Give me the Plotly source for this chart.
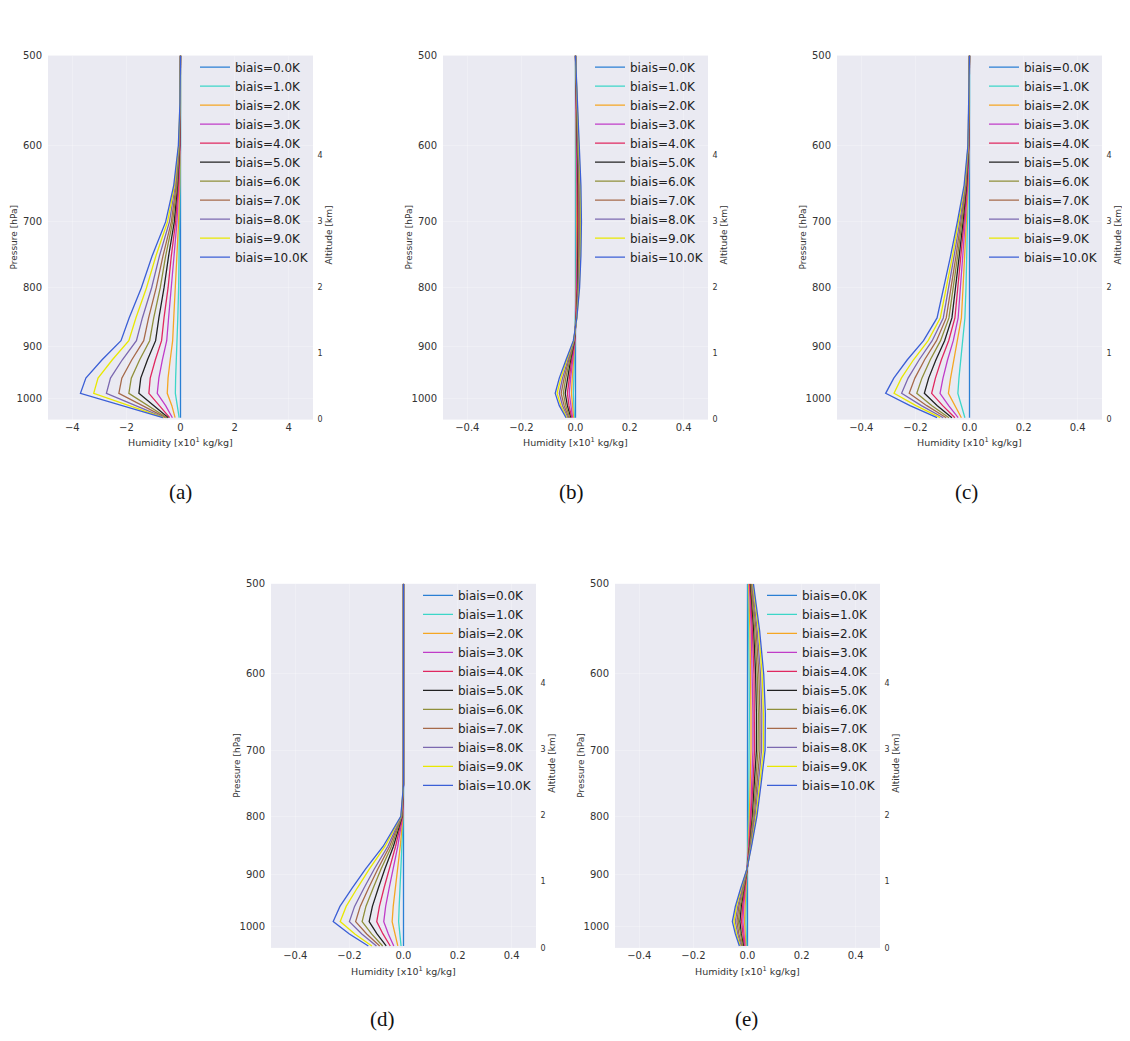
import math
import plotly.graph_objects as go

# ---------------- data ----------------
pressure_levels = [1040, 1015, 990, 960, 925, 890, 850, 800, 750, 700, 650, 600, 550, 500]
bias_values = [0.0, 1.0, 2.0, 3.0, 4.0, 5.0, 6.0, 7.0, 8.0, 9.0, 10.0]
line_colors = ["#2a7fd4", "#3cd6c8", "#f5a623", "#c03cc8", "#e02860", "#222222",
               "#8f8f3a", "#a66a4a", "#7b68b0", "#e8e800", "#3b5fd6"]

hum_a = [
    [0, 0, 0, 0, 0, 0, 0, 0, 0, 0, 0, 0, 0, 0],
    [-0.05, -0.12, -0.19, -0.18, -0.15, -0.11, -0.10, -0.07, -0.05, -0.03, -0.01, 0, 0, 0],
    [-0.20, -0.32, -0.49, -0.46, -0.38, -0.29, -0.25, -0.19, -0.14, -0.07, -0.03, -0.01, 0, 0],
    [-0.30, -0.55, -0.86, -0.80, -0.67, -0.51, -0.44, -0.33, -0.24, -0.13, -0.06, -0.02, 0, 0],
    [-0.40, -0.78, -1.17, -1.12, -0.93, -0.70, -0.61, -0.46, -0.34, -0.18, -0.08, -0.03, -0.01, 0],
    [-0.45, -1.00, -1.54, -1.47, -1.22, -0.92, -0.80, -0.61, -0.44, -0.23, -0.11, -0.03, -0.01, 0],
    [-0.50, -1.20, -1.91, -1.82, -1.51, -1.14, -0.99, -0.75, -0.55, -0.29, -0.13, -0.04, -0.01, 0],
    [-0.55, -1.42, -2.28, -2.17, -1.80, -1.36, -1.18, -0.90, -0.65, -0.34, -0.16, -0.05, -0.01, 0],
    [-0.60, -1.67, -2.74, -2.59, -2.15, -1.63, -1.41, -1.07, -0.78, -0.41, -0.19, -0.06, -0.01, 0],
    [-0.62, -1.92, -3.21, -3.05, -2.52, -1.91, -1.65, -1.26, -0.91, -0.48, -0.22, -0.07, -0.02, 0],
    [-0.65, -2.20, -3.70, -3.50, -2.90, -2.20, -1.90, -1.45, -1.05, -0.55, -0.25, -0.08, -0.02, 0],
]

hum_b = [
    [0, 0, 0, 0, 0, 0, 0, 0, 0, 0, 0, 0, 0, 0],
    [-0.004, -0.006, -0.008, -0.006, -0.004, -0.001, 0.001, 0.002, 0.002, 0.002, 0.002, 0.001, 0.001, 0],
    [-0.007, -0.012, -0.015, -0.012, -0.007, -0.002, 0.001, 0.003, 0.004, 0.004, 0.004, 0.003, 0.001, 0],
    [-0.011, -0.018, -0.023, -0.018, -0.011, -0.002, 0.002, 0.005, 0.006, 0.007, 0.006, 0.004, 0.002, 0],
    [-0.014, -0.024, -0.030, -0.024, -0.014, -0.003, 0.002, 0.006, 0.008, 0.009, 0.008, 0.006, 0.003, 0],
    [-0.018, -0.030, -0.038, -0.030, -0.018, -0.004, 0.003, 0.008, 0.010, 0.011, 0.010, 0.007, 0.004, 0],
    [-0.021, -0.036, -0.045, -0.036, -0.021, -0.005, 0.003, 0.009, 0.012, 0.013, 0.012, 0.008, 0.004, 0],
    [-0.025, -0.042, -0.053, -0.042, -0.025, -0.006, 0.004, 0.011, 0.014, 0.015, 0.014, 0.010, 0.005, 0],
    [-0.028, -0.048, -0.060, -0.048, -0.028, -0.006, 0.004, 0.012, 0.016, 0.018, 0.016, 0.011, 0.006, 0],
    [-0.032, -0.054, -0.068, -0.054, -0.032, -0.007, 0.005, 0.014, 0.018, 0.020, 0.018, 0.013, 0.006, 0],
    [-0.035, -0.060, -0.075, -0.060, -0.035, -0.008, 0.005, 0.015, 0.020, 0.022, 0.020, 0.014, 0.007, 0],
]

hum_c = [
    [0, 0, 0, 0, 0, 0, 0, 0, 0, 0, 0, 0, 0, 0],
    [-0.017, -0.031, -0.043, -0.039, -0.032, -0.024, -0.017, -0.013, -0.010, -0.006, -0.003, -0.001, 0, 0],
    [-0.030, -0.055, -0.078, -0.070, -0.058, -0.043, -0.030, -0.024, -0.018, -0.011, -0.005, -0.002, 0, 0],
    [-0.042, -0.077, -0.109, -0.098, -0.081, -0.060, -0.042, -0.033, -0.025, -0.016, -0.007, -0.002, -0.001, 0],
    [-0.054, -0.099, -0.140, -0.126, -0.104, -0.077, -0.054, -0.043, -0.032, -0.020, -0.009, -0.003, -0.001, 0],
    [-0.065, -0.119, -0.167, -0.151, -0.124, -0.092, -0.065, -0.051, -0.038, -0.024, -0.011, -0.003, -0.001, 0],
    [-0.076, -0.139, -0.195, -0.176, -0.145, -0.107, -0.076, -0.060, -0.044, -0.028, -0.013, -0.004, -0.001, 0],
    [-0.086, -0.158, -0.223, -0.202, -0.166, -0.122, -0.086, -0.068, -0.050, -0.032, -0.014, -0.004, -0.001, 0],
    [-0.097, -0.178, -0.251, -0.227, -0.186, -0.138, -0.097, -0.077, -0.057, -0.036, -0.016, -0.005, -0.002, 0],
    [-0.108, -0.198, -0.279, -0.252, -0.207, -0.153, -0.108, -0.086, -0.063, -0.041, -0.018, -0.005, -0.002, 0],
    [-0.120, -0.220, -0.310, -0.280, -0.230, -0.170, -0.120, -0.095, -0.070, -0.045, -0.020, -0.006, -0.002, 0],
]

hum_d = [
    [0, 0, 0, 0, 0, 0, 0, 0, 0, 0, 0, 0, 0, 0],
    [-0.009, -0.014, -0.018, -0.016, -0.013, -0.010, -0.005, -0.001, 0, 0, 0, 0, 0, 0],
    [-0.021, -0.032, -0.042, -0.038, -0.030, -0.022, -0.012, -0.002, 0, 0, 0, 0, 0, 0],
    [-0.036, -0.056, -0.073, -0.066, -0.053, -0.039, -0.021, -0.003, 0, 0, 0, 0, 0, 0],
    [-0.049, -0.076, -0.099, -0.089, -0.072, -0.053, -0.029, -0.004, 0, 0, 0, 0, 0, 0],
    [-0.064, -0.098, -0.127, -0.115, -0.093, -0.069, -0.037, -0.005, 0, 0, 0, 0, 0, 0],
    [-0.077, -0.118, -0.153, -0.139, -0.112, -0.083, -0.044, -0.006, 0, 0, 0, 0, 0, 0],
    [-0.088, -0.136, -0.177, -0.160, -0.129, -0.095, -0.051, -0.007, 0, 0, 0, 0, 0, 0],
    [-0.100, -0.154, -0.200, -0.181, -0.146, -0.108, -0.058, -0.008, 0, 0, 0, 0, 0, 0],
    [-0.117, -0.180, -0.234, -0.212, -0.171, -0.126, -0.068, -0.009, 0, 0, 0, 0, 0, 0],
    [-0.130, -0.200, -0.260, -0.235, -0.190, -0.140, -0.075, -0.010, 0, 0, 0, 0, 0, 0],
]

hum_e = [
    [0, 0, 0, 0, 0, 0, 0, 0, 0, 0, 0, 0, 0, 0],
    [-0.003, -0.005, -0.006, -0.005, -0.003, 0, 0.002, 0.004, 0.005, 0.007, 0.007, 0.006, 0.005, 0.002],
    [-0.006, -0.009, -0.011, -0.009, -0.005, 0, 0.003, 0.007, 0.010, 0.013, 0.013, 0.012, 0.009, 0.004],
    [-0.009, -0.014, -0.017, -0.014, -0.008, -0.001, 0.005, 0.011, 0.015, 0.020, 0.020, 0.018, 0.014, 0.007],
    [-0.012, -0.018, -0.022, -0.018, -0.010, -0.001, 0.006, 0.014, 0.020, 0.026, 0.026, 0.024, 0.018, 0.009],
    [-0.015, -0.023, -0.028, -0.023, -0.013, -0.001, 0.008, 0.018, 0.025, 0.033, 0.033, 0.030, 0.023, 0.011],
    [-0.018, -0.027, -0.034, -0.027, -0.015, -0.001, 0.009, 0.021, 0.030, 0.039, 0.040, 0.036, 0.027, 0.013],
    [-0.021, -0.032, -0.039, -0.032, -0.018, -0.001, 0.011, 0.025, 0.035, 0.046, 0.046, 0.042, 0.032, 0.015],
    [-0.024, -0.036, -0.045, -0.036, -0.020, -0.002, 0.012, 0.028, 0.040, 0.052, 0.053, 0.048, 0.036, 0.018],
    [-0.027, -0.041, -0.050, -0.041, -0.023, -0.002, 0.014, 0.032, 0.045, 0.059, 0.059, 0.054, 0.041, 0.020],
    [-0.030, -0.045, -0.056, -0.045, -0.025, -0.002, 0.015, 0.035, 0.050, 0.065, 0.066, 0.060, 0.045, 0.022],
]

pressure_ticks = [500, 600, 700, 800, 900, 1000]
altitude_ticks = [0, 1, 2, 3, 4]
altitude_ticktext = ["0", "1", "2", "3", "4"]
x_ticks_a = [-4, -2, 0, 2, 4]
x_ticktext_a = ["\u22124", "\u22122", "0", "2", "4"]
x_ticks_small = [-0.4, -0.2, 0.0, 0.2, 0.4]
x_ticktext_small = ["\u22120.4", "\u22120.2", "0.0", "0.2", "0.4"]
panel_captions = ["(a)", "(b)", "(c)", "(d)", "(e)"]

# ---------------- layout geometry (page pixels) ----------------
OFF = 8                      # default body margin of the html page
W, H = 1130 - 2 * OFF, 1041 - 2 * OFF
panels = [
    dict(data=hum_a, left=48, top=50, xr=[-4.9, 4.9], tv=x_ticks_a, tt=x_ticktext_a),
    dict(data=hum_b, left=443, top=50, xr=[-0.49, 0.49], tv=x_ticks_small, tt=x_ticktext_small),
    dict(data=hum_c, left=837, top=50, xr=[-0.49, 0.49], tv=x_ticks_small, tt=x_ticktext_small),
    dict(data=hum_d, left=271, top=584, xr=[-0.49, 0.49], tv=x_ticks_small, tt=x_ticktext_small),
    dict(data=hum_e, left=615, top=584, xr=[-0.49, 0.49], tv=x_ticks_small, tt=x_ticktext_small),
]
PW, PH = 265, 368
caption_pos = [(180, 491), (572, 491), (966, 491), (382, 1024), (746, 1024)]


def px(x):
    return (x - OFF) / W


def py(y):
    return 1 - (y - OFF) / H


fig = go.Figure()
layout = dict(width=W, height=H, margin=dict(l=0, r=0, t=0, b=0),
              paper_bgcolor="white", plot_bgcolor="#eaeaf2",
              font=dict(family="DejaVu Sans", color="#333333"), showlegend=True)
annotations = []
tick_font = dict(family="DejaVu Sans", size=10, color="#333333")
grid_col = "rgba(255,255,255,0.25)"


def note(text, x, y, size, angle=0, family="DejaVu Sans", color="#333333"):
    return dict(text=text, x=px(x), y=py(y), xref="paper", yref="paper",
                xanchor="center", yanchor="middle", textangle=angle, showarrow=False,
                font=dict(family=family, size=size, color=color))


for i, pnl in enumerate(panels):
    n = i + 1
    xa = "x" if n == 1 else f"x{n}"
    ya = "y" if n == 1 else f"y{n}"
    yr = f"y{n + 5}"
    leg = "legend" if n == 1 else f"legend{n}"
    L, T = pnl["left"], pnl["top"]

    for k, row in enumerate(pnl["data"]):
        fig.add_trace(go.Scatter(x=row, y=pressure_levels, mode="lines",
                                 line=dict(color=line_colors[k], width=1.3),
                                 name=f"biais={bias_values[k]:.1f}K",
                                 xaxis=xa, yaxis=ya, legend=leg, hoverinfo="skip"))
    fig.add_trace(go.Scatter(x=[None], y=[None], xaxis=xa, yaxis=yr,
                             showlegend=False, hoverinfo="skip"))

    layout[f"xaxis{'' if n == 1 else n}"] = dict(
        domain=[px(L), px(L + PW)], anchor=ya, range=pnl["xr"],
        tickvals=pnl["tv"], ticktext=pnl["tt"],
        showgrid=True, gridcolor=grid_col, zeroline=False, showline=False,
        ticks="", tickfont=tick_font)
    layout[f"yaxis{'' if n == 1 else n}"] = dict(
        domain=[py(T + PH), py(T)], anchor=xa, type="log",
        range=[math.log10(1044), math.log10(500)], tickvals=pressure_ticks,
        ticktext=[str(v) for v in pressure_ticks],
        showgrid=True, gridcolor=grid_col, zeroline=False, showline=False,
        ticks="outside", ticklen=3, tickcolor="rgba(0,0,0,0)", tickfont=tick_font)
    layout[f"yaxis{n + 5}"] = dict(
        overlaying=ya, anchor=xa, side="right", range=[0, 5.5],
        tickvals=altitude_ticks, ticktext=altitude_ticktext,
        showgrid=False, zeroline=False, showline=False,
        ticks="outside", ticklen=2, tickcolor="rgba(0,0,0,0)",
        tickfont=dict(family="DejaVu Sans", size=8, color="#333333"))
    layout[leg] = dict(x=px(L + 147), y=py(T - 3),
                       xanchor="left", yanchor="top", bgcolor="rgba(0,0,0,0)",
                       borderwidth=0, tracegroupgap=0,
                       font=dict(family="DejaVu Sans", size=12, color="#222222"))

    annotations.append(note("Humidity [x10<sup>1</sup> kg/kg]", L + PW / 2, T + PH + 23, 9.5))
    annotations.append(note("Pressure [hPa]", L - 34, T + PH / 2, 9, angle=-90))
    annotations.append(note("Altitude [km]", L + PW + 16, T + PH / 2 - 2, 9, angle=-90))
    annotations.append(note(panel_captions[i], caption_pos[i][0], caption_pos[i][1], 21,
                            family="Liberation Serif", color="#111111"))

layout["annotations"] = annotations
fig.update_layout(**layout)
fig.write_html("out.html")
